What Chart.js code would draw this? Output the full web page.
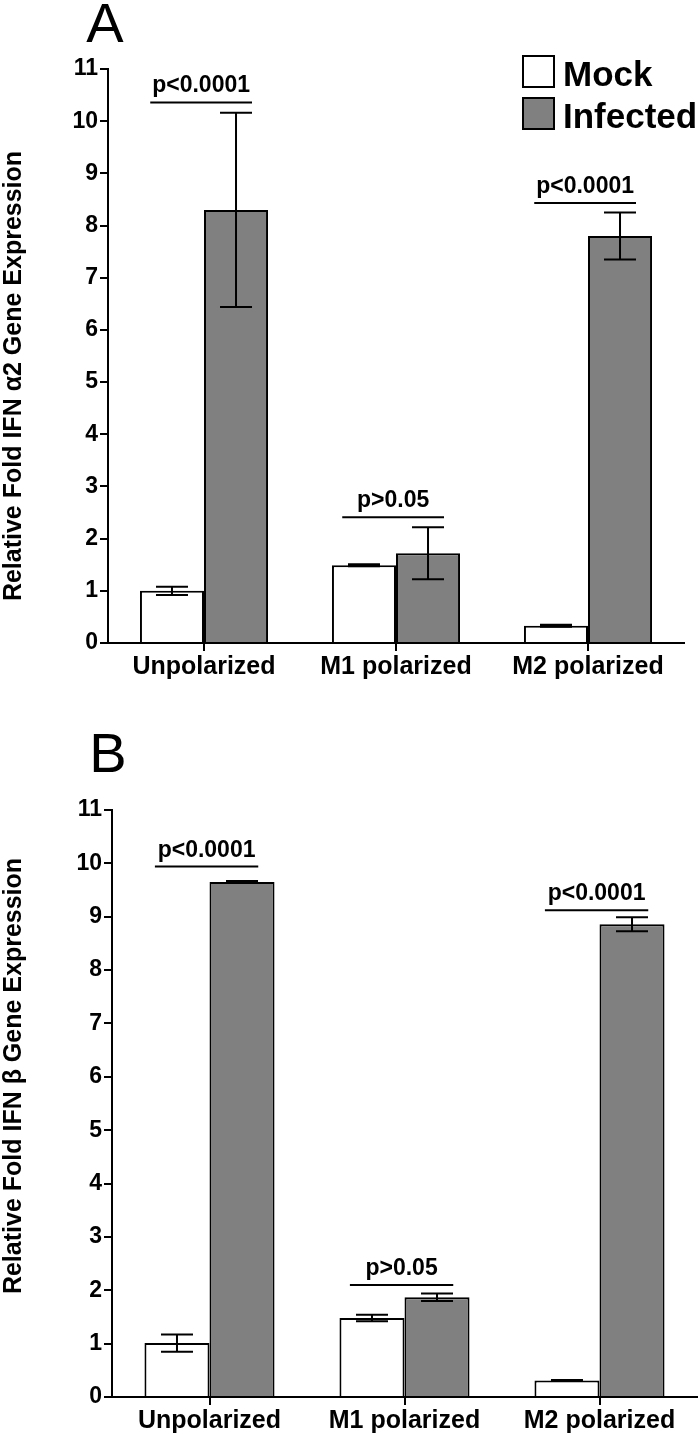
<!DOCTYPE html>
<html>
<head>
<meta charset="utf-8">
<script src="https://cdn.jsdelivr.net/npm/chart.js@4"></script>
<style>
  html, body { margin: 0; padding: 0; background: #fff; }
  canvas { display: block; }
</style>
</head>
<body>
<canvas id="chartA" width="700" height="705"></canvas>
<canvas id="chartB" width="700" height="729"></canvas>
<script>
const categories = ['Unpolarized', 'M1 polarized', 'M2 polarized'];
const seriesNames = ['Mock', 'Infected'];

// panel A - IFN alpha2
const ifnA2Mock = [1.00, 1.49, 0.33];
const ifnA2MockSem = [0.08, 0.02, 0.02];
const ifnA2Infected = [8.30, 1.72, 7.80];
const ifnA2InfectedSem = [1.86, 0.50, 0.45];
const ifnA2Bracket = [10.36, 2.41, 8.43];

// panel B - IFN beta
const ifnBMock = [1.01, 1.48, 0.31];
const ifnBMockSem = [0.16, 0.06, 0.01];
const ifnBInfected = [9.65, 1.87, 8.86];
const ifnBInfectedSem = [0.02, 0.07, 0.13];
const ifnBBracket = [9.94, 2.10, 9.12];

const pLabels = ['p<0.0001', 'p>0.05', 'p<0.0001'];
const yMax = 11;

const FONT = "'Liberation Sans', Arial, sans-serif";

const annotate = {
    id: 'annotate',
    afterDatasetsDraw(chart, args, opts) {
        const ctx = chart.ctx;
        const x = chart.scales.x;
        const y = chart.scales.y;
        const area = chart.chartArea;
        ctx.save();
        ctx.strokeStyle = '#000';
        ctx.fillStyle = '#000';
        ctx.lineWidth = 2;

        // error bars
        chart.data.datasets.forEach((ds, di) => {
            const meta = chart.getDatasetMeta(di);
            meta.data.forEach((bar, i) => {
                const v = ds.data[i];
                const e = opts.errors[di][i];
                const yt = y.getPixelForValue(v + e);
                const yb = y.getPixelForValue(v - e);
                ctx.beginPath();
                ctx.moveTo(bar.x, yt); ctx.lineTo(bar.x, yb);
                ctx.moveTo(bar.x - 16, yt); ctx.lineTo(bar.x + 16, yt);
                ctx.moveTo(bar.x - 16, yb); ctx.lineTo(bar.x + 16, yb);
                ctx.stroke();
            });
        });

        // significance lines
        const catW = (area.right - area.left) / categories.length;
        ctx.font = 'bold 23px ' + FONT;
        ctx.textAlign = 'center';
        ctx.textBaseline = 'alphabetic';
        opts.bracket.forEach((b, i) => {
            const cx = x.getPixelForValue(i);
            const x0 = cx - 0.28 * catW;
            const x1 = cx + 0.25 * catW;
            const yy = y.getPixelForValue(b);
            ctx.beginPath();
            ctx.moveTo(x0, yy); ctx.lineTo(x1, yy);
            ctx.stroke();
            ctx.fillText(pLabels[i], (x0 + x1) / 2, yy - 10);
        });

        // y axis title
        ctx.save();
        ctx.translate(opts.titleX, opts.titleY);
        ctx.rotate(-Math.PI / 2);
        ctx.font = 'bold 25px ' + FONT;
        ctx.textAlign = 'center';
        ctx.textBaseline = 'middle';
        ctx.fillText(opts.yTitle, 0, 0);
        ctx.restore();

        // panel letter
        ctx.font = '56px ' + FONT;
        ctx.textAlign = 'center';
        ctx.textBaseline = 'alphabetic';
        ctx.fillText(opts.letter, opts.letterX, opts.letterY);

        // legend
        if (opts.legend) {
            const bx = area.right - 161;
            let by = area.top - 13;
            ctx.font = 'bold 35px ' + FONT;
            ctx.textAlign = 'left';
            chart.data.datasets.forEach((ds, di) => {
                ctx.fillStyle = ds.backgroundColor;
                ctx.fillRect(bx, by, 31, 31);
                ctx.strokeRect(bx, by, 31, 31);
                ctx.fillStyle = '#000';
                ctx.fillText(ds.label, bx + 40, by + 30);
                by += 42;
            });
        }
        ctx.restore();
    }
};

function makeChart(id, mock, infected, errors, bracket, yTitle, letter, geom) {
    new Chart(document.getElementById(id), {
        type: 'bar',
        data: {
            labels: categories,
            datasets: [{
                label: seriesNames[0],
                data: mock,
                backgroundColor: '#ffffff',
                borderColor: '#000',
                borderWidth: 2,
                categoryPercentage: 0.667,
                barPercentage: 1.0
            }, {
                label: seriesNames[1],
                data: infected,
                backgroundColor: '#808080',
                borderColor: '#000',
                borderWidth: 2,
                categoryPercentage: 0.667,
                barPercentage: 1.0
            }]
        },
        options: {
            responsive: false,
            animation: false,
            layout: {
                padding: {top: geom.top, right: geom.right, left: 0, bottom: 0}
            },
            plugins: {
                legend: {display: false},
                tooltip: {enabled: false},
                annotate: {
                    errors: errors,
                    bracket: bracket,
                    yTitle: yTitle,
                    titleX: 14,
                    titleY: geom.titleY,
                    letter: letter,
                    letterX: geom.letterX,
                    letterY: geom.letterY,
                    legend: geom.legend
                }
            },
            scales: {
                x: {
                    grid: {
                        offset: false,
                        drawOnChartArea: false,
                        drawTicks: true,
                        tickLength: 8,
                        color: '#000',
                        lineWidth: 2
                    },
                    border: {display: true, color: '#000', width: 2},
                    ticks: {
                        color: '#000',
                        padding: 1,
                        maxRotation: 0,
                        font: {family: FONT, size: 25, weight: 'bold'}
                    },
                    afterFit(scale) { scale.height = geom.bottomSpace; }
                },
                y: {
                    min: 0,
                    max: yMax,
                    grid: {
                        drawOnChartArea: false,
                        drawTicks: true,
                        tickLength: 8,
                        color: '#000',
                        lineWidth: 2
                    },
                    border: {display: true, color: '#000', width: 2},
                    ticks: {
                        stepSize: 1,
                        color: '#000',
                        padding: 2,
                        font: {family: FONT, size: 23, weight: 'bold'}
                    },
                    afterFit(scale) { scale.width = geom.left; }
                }
            }
        },
        plugins: [annotate]
    });
}

makeChart('chartA', ifnA2Mock, ifnA2Infected, [ifnA2MockSem, ifnA2InfectedSem], ifnA2Bracket,
    'Relative Fold IFN \u03b12 Gene Expression', 'A',
    {top: 69, right: 16, left: 108, bottomSpace: 62, titleY: 376, letterX: 105, letterY: 42, legend: true});

makeChart('chartB', ifnBMock, ifnBInfected, [ifnBMockSem, ifnBInfectedSem], ifnBBracket,
    'Relative Fold IFN \u03b2 Gene Expression', 'B',
    {top: 105, right: 3, left: 112, bottomSpace: 37, titleY: 371, letterX: 108, letterY: 67, legend: false});
</script>
</body>
</html>
